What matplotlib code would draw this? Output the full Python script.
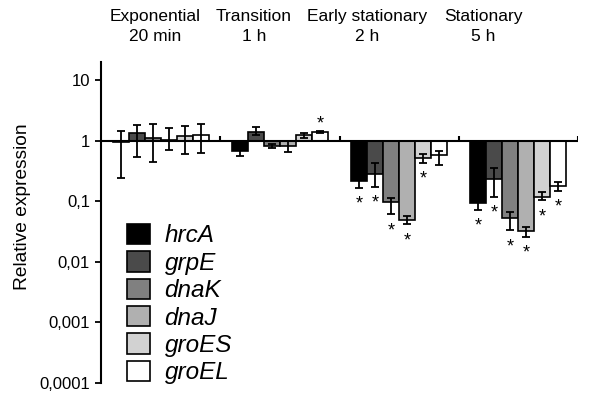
import matplotlib
matplotlib.use("Agg")
import matplotlib.pyplot as plt
import numpy as np

plt.rcParams['font.family'] = ['Liberation Sans', 'DejaVu Sans']

genes = ["hrcA", "grpE", "dnaK", "dnaJ", "groES", "groEL"]
colors = ["#000000", "#4a4a4a", "#808080", "#b0b0b0", "#d2d2d2", "#ffffff"]
phases = ["Exponential\n20 min", "Transition\n1 h", "Early stationary\n2 h", "Stationary\n5 h"]

# relative expression per phase (rows) and gene (columns)
values = [
    [0.97, 1.32, 1.13, 1.03, 1.19, 1.23],
    [0.67, 1.41, 0.83, 0.83, 1.23, 1.41],
    [0.213, 0.281, 0.096, 0.049, 0.51, 0.59],
    [0.094, 0.237, 0.054, 0.032, 0.118, 0.177],
]
# lower / upper end of the error bars
err_lo = [
    [0.24, 0.54, 0.45, 0.70, 0.61, 0.63],
    [0.555, 1.24, 0.76, 0.65, 1.13, 1.35],
    [0.169, 0.175, 0.061, 0.042, 0.43, 0.40],
    [0.073, 0.12, 0.033, 0.026, 0.104, 0.148],
]
err_hi = [
    [1.45, 1.80, 1.87, 1.65, 1.78, 1.87],
    [0.78, 1.69, 0.90, 1.00, 1.32, 1.45],
    [0.25, 0.43, 0.114, 0.058, 0.60, 0.67],
    [0.11, 0.36, 0.066, 0.037, 0.142, 0.209],
]
# significance: 0 none, -1 star below, 1 star above
signif = [
    [0, 0, 0, 0, 0, 0],
    [0, 0, 0, 0, 0, 1],
    [-1, -1, -1, -1, -1, 0],
    [-1, -1, -1, -1, -1, -1],
]

values = np.array(values)
err_lo = np.array(err_lo)
err_hi = np.array(err_hi)

fig = plt.figure(figsize=(5.89, 3.94), dpi=100)
ax = fig.add_axes([101/589, 1-383/394, 477/589, 321/394])
ax.set_yscale('log')

w = 0.134
centers = np.arange(len(phases)) + 0.5
for i, g in enumerate(genes):
    x = centers + (i - 2.5) * w
    v = values[:, i]
    ax.bar(x, v - 1, bottom=1, width=w, color=colors[i], edgecolor='black',
           linewidth=1.2, label=g, zorder=2)
    yerr = [v - err_lo[:, i], err_hi[:, i] - v]
    ax.errorbar(x, v, yerr=yerr, fmt='none', ecolor='black', elinewidth=1.3,
                capsize=3.2, capthick=1.3, zorder=3)
    for j in range(len(phases)):
        s = signif[j][i]
        if s < 0:
            ax.annotate('*', (x[j], err_lo[j, i]), xytext=(0, -15),
                        textcoords='offset points', ha='center', va='baseline',
                        fontsize=13)
        elif s > 0:
            ax.annotate('*', (x[j], err_hi[j, i]), xytext=(0, 2),
                        textcoords='offset points', ha='center', va='baseline',
                        fontsize=13)

# baseline at 1 with group separators
ax.plot([0, len(phases)], [1, 1], color='black', lw=1.5, zorder=4)
ax.vlines(np.arange(1, len(phases) + 1), 1, 1.22, color='black', lw=1.5, zorder=4)

ax.set_xlim(0, len(phases))
ax.set_ylim(1e-4, 20)
ax.set_yticks([10, 1, 0.1, 0.01, 0.001, 0.0001])
ax.set_yticklabels(["10", "1", "0,1", "0,01", "0,001", "0,0001"], fontsize=12)
ax.yaxis.set_minor_locator(matplotlib.ticker.NullLocator())
ax.tick_params(axis='y', length=4, width=1.3, pad=4)
ax.set_xticks([])
for s in ['top', 'right', 'bottom']:
    ax.spines[s].set_visible(False)
ax.spines['left'].set_linewidth(1.5)
ax.set_ylabel("Relative expression", fontsize=13.8)
ax.yaxis.set_label_coords((31 - 101)/477, (383 - 207)/321)

label_x = [155, 254, 367, 483]
for lx, p in zip(label_x, phases):
    fig.text(lx/589, 1-9/394, p, ha='center', va='top', fontsize=12.5, linespacing=1.45)

leg = ax.legend(loc='upper left', bbox_to_anchor=(127/589, 1-224/394),
                bbox_transform=fig.transFigure, frameon=False, fontsize=17.5,
                handlelength=0.95, handleheight=0.9, handletextpad=0.6,
                labelspacing=0.16, borderpad=0, borderaxespad=0)
for t in leg.get_texts():
    t.set_fontstyle('italic')

fig.savefig('out.png', dpi=100)
